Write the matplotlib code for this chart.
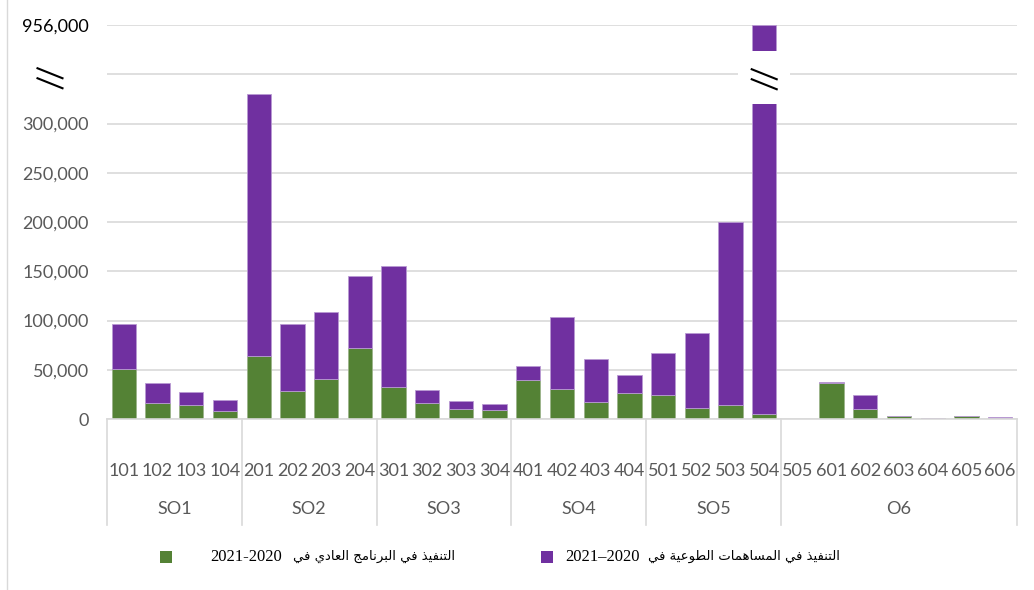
import numpy as np
import matplotlib
matplotlib.use('Agg')
import matplotlib.pyplot as plt
from matplotlib.patches import Rectangle
from matplotlib.lines import Line2D
import matplotlib.transforms as mtransforms

# Data
codes = ['101', '102', '103', '104', '201', '202', '203', '204', '301', '302', '303', '304',
         '401', '402', '403', '404', '501', '502', '503', '504', '505',
         '601', '602', '603', '604', '605', '606']
groups = ['SO1', 'SO2', 'SO3', 'SO4', 'SO5', 'O6']
group_sizes = [4, 4, 4, 4, 4, 7]
regular = [51000, 16000, 14000, 8000, 64000, 28500, 40300, 72300, 32500, 16400, 10500, 9200,
           40000, 30000, 17500, 26600, 24600, 11300, 14300, 5100, 0,
           36500, 10500, 3000, 1000, 3000, 1000]
totals = [96000, 36500, 27000, 19300, 330000, 96300, 108500, 145000, 155000, 29000, 18500, 15700,
          53600, 104000, 60500, 44500, 66500, 87500, 200500, 956000, 0,
          37500, 24000, 3300, 1300, 3300, 2000]
voluntary = [t - r for t, r in zip(totals, regular)]

# legend text (logical order) and period
series_names = ['التنفيذ في البرنامج العادي في', 'التنفيذ في المساهمات الطوعية في']
series_periods = ['2020-2021', '2020–2021']
colors = ['#548235', '#7030A0']

ytick_values = [0, 50000, 100000, 150000, 200000, 250000, 300000, 350000, 956000]
break_value = 350000

# Arabic presentation forms: isolated, final, initial, medial
FORMS = {
    'ا': ('\uFE8D', '\uFE8E', None, None),
    'ب': ('\uFE8F', '\uFE90', '\uFE91', '\uFE92'),
    'ة': ('\uFE93', '\uFE94', None, None),
    'ت': ('\uFE95', '\uFE96', '\uFE97', '\uFE98'),
    'ج': ('\uFE9D', '\uFE9E', '\uFE9F', '\uFEA0'),
    'د': ('\uFEA9', '\uFEAA', None, None),
    'ذ': ('\uFEAB', '\uFEAC', None, None),
    'ر': ('\uFEAD', '\uFEAE', None, None),
    'س': ('\uFEB1', '\uFEB2', '\uFEB3', '\uFEB4'),
    'ط': ('\uFEC1', '\uFEC2', '\uFEC3', '\uFEC4'),
    'ع': ('\uFEC9', '\uFECA', '\uFECB', '\uFECC'),
    'ف': ('\uFED1', '\uFED2', '\uFED3', '\uFED4'),
    'ل': ('\uFEDD', '\uFEDE', '\uFEDF', '\uFEE0'),
    'م': ('\uFEE1', '\uFEE2', '\uFEE3', '\uFEE4'),
    'ن': ('\uFEE5', '\uFEE6', '\uFEE7', '\uFEE8'),
    'ه': ('\uFEE9', '\uFEEA', '\uFEEB', '\uFEEC'),
    'و': ('\uFEED', '\uFEEE', None, None),
    'ي': ('\uFEF1', '\uFEF2', '\uFEF3', '\uFEF4'),
}


def shape_arabic(text):
    # join letters and return in visual (left-to-right) order
    out = []
    for i, ch in enumerate(text):
        f = FORMS.get(ch)
        if f is None:
            out.append(ch)
            continue
        prev = text[i - 1] if i > 0 else ''
        nxt = text[i + 1] if i + 1 < len(text) else ''
        jp = prev in FORMS and FORMS[prev][2] is not None
        jn = nxt in FORMS and f[2] is not None
        if jp and jn:
            out.append(f[3])
        elif jp:
            out.append(f[1])
        elif jn:
            out.append(f[2])
        else:
            out.append(f[0])
    return ''.join(out)[::-1]


def visual_period(p):
    sep = '–' if '–' in p else '-'
    return sep.join(p.split(sep)[::-1])


# broken axis: everything above the break is squeezed into one grid step
def fwd(v):
    v = np.asarray(v, dtype=float)
    return np.where(v <= break_value, v, break_value + (v - break_value) * 50000 / (956000 - break_value))


def inv(u):
    u = np.asarray(u, dtype=float)
    return np.where(u <= break_value, u, break_value + (u - break_value) * (956000 - break_value) / 50000)


W, H = 1034, 590
fig = plt.figure(figsize=(W / 100, H / 100), dpi=100)
ax = fig.add_axes([107 / W, 1 - 419 / H, 910 / W, 394 / H])

ax.set_yscale('function', functions=(fwd, inv))
x = np.arange(len(codes))
ax.bar(x, regular, width=0.72, color=colors[0], edgecolor='#9bb38a', linewidth=0.6, zorder=2)
ax.bar(x, voluntary, bottom=regular, width=0.72, color=colors[1], edgecolor='#b99ad3', linewidth=0.6, zorder=2)

ax.set_xlim(-0.5, len(codes) - 0.5)
ax.set_ylim(0, 956000)
ax.set_yticks(ytick_values)
ax.set_yticklabels(['{:,}'.format(v) if v != break_value else '' for v in ytick_values])
ax.tick_params(axis='y', length=0, pad=13, labelsize=13, labelcolor='#595959')
for lab in ax.get_yticklabels():
    lab.set_fontfamily('Lato')
ax.get_yticklabels()[-1].set_color('black')
ax.set_xticks([])
ax.grid(axis='y', color='#d9d9d9', linewidth=1.2)
ax.set_axisbelow(True)
for s in ['top', 'right', 'left']:
    ax.spines[s].set_visible(False)
ax.spines['bottom'].set_color('#d9d9d9')
ax.spines['bottom'].set_linewidth(1.2)

bt = mtransforms.blended_transform_factory(ax.transData, ax.transAxes)

# break: white gap across the tall bar, plus // marks on the bar and the axis
big = int(np.argmax(totals))
ax.add_patch(Rectangle((big - 0.77, 0.7995), 1.54, 0.1345, transform=bt,
                       facecolor='white', edgecolor='none', zorder=3, clip_on=False))


def break_marks(px, py):
    # px, py: display pixels of the break point (y up)
    for dy in (0, -10):
        fig.add_artist(Line2D([(px - 12.5) / W, (px + 12.5) / W],
                              [(py + dy + 5) / H, (py + dy - 5) / H],
                              color='black', lw=1.5, zorder=5))


bx, by = ax.transData.transform((big, break_value))
break_marks(bx, by)
ax_px, _ = ax.transAxes.transform((0, 0))
break_marks(ax_px - 57, by + 1)

# multi level category axis
for i, c in enumerate(codes):
    ax.text(i, -52 / 394, c, transform=bt, ha='center', va='center', fontsize=13,
            color='#595959', family='Lato')
edges = np.concatenate([[0], np.cumsum(group_sizes)]) - 0.5
for e in edges:
    ax.add_line(Line2D([e, e], [0, -106 / 394], transform=bt, color='#d9d9d9', lw=1.2, clip_on=False))
for g, a, b in zip(groups, edges[:-1], edges[1:]):
    ax.text((a + b) / 2, -90 / 394, g, transform=bt, ha='center', va='center', fontsize=13,
            color='#595959', family='Lato')

# legend
sq_x = [160, 541]
txt_x = [210, 565]
txt_end = [455, 840]
for name, period, col, sx, tx, te in zip(series_names, series_periods, colors, sq_x, txt_x, txt_end):
    fig.patches.append(Rectangle((sx / W, 1 - 563 / H), 12 / W, 12 / H, transform=fig.transFigure,
                                 facecolor=col, edgecolor='none'))
    fig.text(tx / W, 1 - 557 / H, visual_period(period), ha='left', va='center',
             fontsize=12, color='black', family='Liberation Serif')
    fig.text(te / W, 1 - 556 / H, shape_arabic(name), ha='right', va='center',
             fontsize=9.5, color='black', family='DejaVu Sans')

fig.add_artist(Line2D([7 / W, 7 / W], [0, 1], color='#d9d9d9', lw=1))

fig.savefig('out.png', dpi=100, facecolor='white')
